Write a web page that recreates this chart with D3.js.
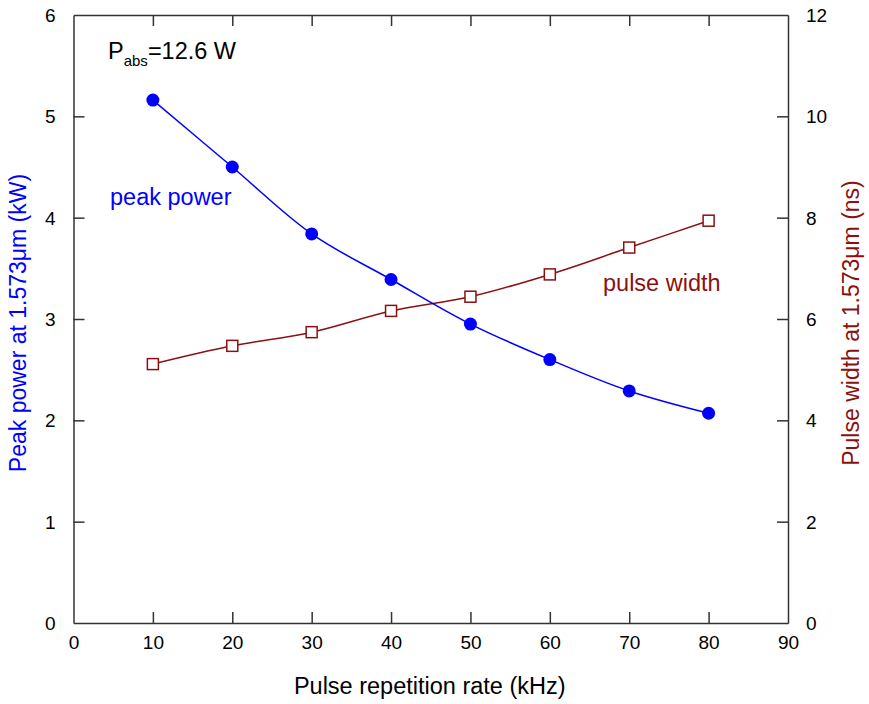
<!DOCTYPE html>
<html>
<head>
<meta charset="utf-8">
<script src="https://cdn.jsdelivr.net/npm/d3@7/dist/d3.min.js"></script>
<style>
  html, body { margin: 0; padding: 0; background: #fff; }
  svg { display: block; font-family: "Liberation Sans", Arial, sans-serif; }
</style>
</head>
<body>
<svg id="chart" width="869" height="704"></svg>
<script>
// Pulse repetition rate (kHz)
const rates = [10, 20, 30, 40, 50, 60, 70, 80];
// Peak power at 1.573 µm (kW)
const peakPower = [5.16, 4.50, 3.84, 3.39, 2.95, 2.60, 2.29, 2.07];
// Pulse width at 1.573 µm (ns)
const pulseWidth = [5.11, 5.47, 5.74, 6.16, 6.44, 6.88, 7.41, 7.94];

const xTicks = [0, 10, 20, 30, 40, 50, 60, 70, 80, 90];
const yLeftTicks = [0, 1, 2, 3, 4, 5, 6];
const yRightTicks = [0, 2, 4, 6, 8, 10, 12];

const powerColor = "#0000ff";
const widthColor = "#8b1010";
const axisColor = "#333";

const svg = d3.select("#chart");
const m = { left: 73.5, right: 788, top: 15, bottom: 623 };

const x = d3.scaleLinear().domain([0, 90]).range([m.left, m.right]);
const yL = d3.scaleLinear().domain([0, 6]).range([m.bottom, m.top]);
const yR = d3.scaleLinear().domain([0, 12]).range([m.bottom, m.top]);

const tickLen = 11;
const fontTick = 19;
const fmt = d3.format("d");

function styleAxis(g) {
  g.select(".domain").attr("stroke", axisColor).attr("stroke-width", 1.5);
  g.selectAll(".tick line").attr("stroke", axisColor).attr("stroke-width", 1.5);
  g.selectAll(".tick text").attr("fill", "#000").style("font-size", fontTick + "px")
    .style("font-family", "Liberation Sans, Arial, sans-serif");
}

// bottom axis, ticks pointing inward
const gx = svg.append("g").attr("transform", `translate(0,${m.bottom})`)
  .call(d3.axisBottom(x).tickValues(xTicks).tickFormat(fmt).tickSizeInner(-tickLen).tickSizeOuter(0).tickPadding(13));
styleAxis(gx);
gx.selectAll(".tick").filter(d => d === 0 || d === 90).select("line").remove();

// top axis, ticks only
const gxt = svg.append("g").attr("transform", `translate(0,${m.top})`)
  .call(d3.axisTop(x).tickValues(xTicks).tickSizeInner(-tickLen).tickSizeOuter(0).tickFormat(""));
styleAxis(gxt);
gxt.selectAll(".tick").filter(d => d === 0 || d === 90).select("line").remove();

// left axis
const gyl = svg.append("g").attr("transform", `translate(${m.left},0)`)
  .call(d3.axisLeft(yL).tickValues(yLeftTicks).tickFormat(fmt).tickSizeInner(-tickLen).tickSizeOuter(0).tickPadding(18));
styleAxis(gyl);
gyl.selectAll(".tick").filter(d => d === 0 || d === 6).select("line").remove();
gyl.selectAll(".tick text").attr("dy", "0.35em");

// right axis
const gyr = svg.append("g").attr("transform", `translate(${m.right},0)`)
  .call(d3.axisRight(yR).tickValues(yRightTicks).tickFormat(fmt).tickSizeInner(-tickLen).tickSizeOuter(0).tickPadding(18));
styleAxis(gyr);
gyr.selectAll(".tick").filter(d => d === 0 || d === 12).select("line").remove();
gyr.selectAll(".tick text").attr("dy", "0.35em");

// axis titles
svg.append("text")
  .attr("x", (m.left + m.right) / 2 - 1).attr("y", 694)
  .attr("text-anchor", "middle").style("font-size", "23.5px").attr("fill", "#000")
  .text("Pulse repetition rate (kHz)");

svg.append("text")
  .attr("transform", `translate(26,${(m.top + m.bottom) / 2 + 4}) rotate(-90)`)
  .attr("text-anchor", "middle").style("font-size", "23px").attr("fill", powerColor)
  .text("Peak power at 1.573\u03bcm (kW)");

svg.append("text")
  .attr("transform", `translate(859,${(m.top + m.bottom) / 2 + 4}) rotate(-90)`)
  .attr("text-anchor", "middle").style("font-size", "23px").attr("fill", widthColor)
  .text("Pulse width at 1.573\u03bcm (ns)");

// series
const powerData = rates.map((r, i) => ({ x: r, y: peakPower[i] }));
const widthData = rates.map((r, i) => ({ x: r, y: pulseWidth[i] }));

const linePower = d3.line().x(d => x(d.x)).y(d => yL(d.y)).curve(d3.curveCatmullRom.alpha(0.5));
const lineWidth = d3.line().x(d => x(d.x)).y(d => yR(d.y)).curve(d3.curveCatmullRom.alpha(0.5));

svg.append("path").datum(widthData).attr("d", lineWidth)
  .attr("fill", "none").attr("stroke", widthColor).attr("stroke-width", 1.5);
svg.append("path").datum(powerData).attr("d", linePower)
  .attr("fill", "none").attr("stroke", powerColor).attr("stroke-width", 1.5);

const sq = 11;
svg.append("g").selectAll("rect").data(widthData).join("rect")
  .attr("x", d => x(d.x) - sq / 2).attr("y", d => yR(d.y) - sq / 2)
  .attr("width", sq).attr("height", sq)
  .attr("fill", "#fff").attr("stroke", widthColor).attr("stroke-width", 1.5);

svg.append("g").selectAll("circle").data(powerData).join("circle")
  .attr("cx", d => x(d.x)).attr("cy", d => yL(d.y)).attr("r", 6.5)
  .attr("fill", powerColor);

// annotations
const pabs = svg.append("text").attr("x", 108).attr("y", 59)
  .style("font-size", "23.5px").attr("fill", "#000");
pabs.append("tspan").text("P");
pabs.append("tspan").attr("dy", 7).style("font-size", "15px").text("abs");
pabs.append("tspan").attr("dy", -7).text("=12.6 W");

svg.append("text").attr("x", 110).attr("y", 205)
  .style("font-size", "23.5px").attr("fill", powerColor).text("peak power");

svg.append("text").attr("x", 603).attr("y", 291)
  .style("font-size", "23.5px").attr("fill", widthColor).text("pulse width");
</script>
</body>
</html>
